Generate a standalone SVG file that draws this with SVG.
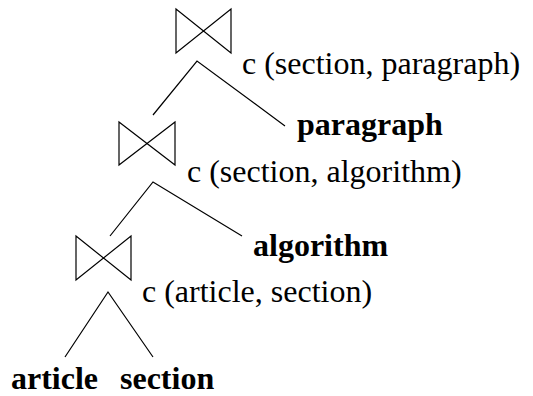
<svg xmlns="http://www.w3.org/2000/svg" width="533" height="396" viewBox="0 0 533 396">
<style>
.bt{fill:none;stroke:#000;stroke-width:1.2;stroke-linejoin:miter}
.e{fill:none;stroke:#000;stroke-width:1.2}
text{font-family:'Liberation Serif','Times New Roman',Tinos,'DejaVu Serif',serif;font-size:32px;fill:#000}
.b{font-weight:bold}
</style>
<rect width="533" height="396" fill="#fff"/>
<g id="join1">
<path class="bt" d="M176,9 L231,53 L231,9 L176,53 Z"/>
<text x="242" y="74" font-family="Liberation Serif, serif">c (section, paragraph)</text>
</g>
<g id="paragraph"><text class="b" x="297" y="135" font-family="Liberation Serif, serif">paragraph</text></g>
<g id="join2">
<path class="bt" d="M119,122 L175,165 L175,122 L119,165 Z"/>
<text x="187" y="182" font-family="Liberation Serif, serif">c (section, algorithm)</text>
</g>
<g id="algorithm"><text class="b" x="253" y="256" font-family="Liberation Serif, serif">algorithm</text></g>
<g id="join3">
<path class="bt" d="M76,236 L131,280 L131,236 L76,280 Z"/>
<text x="142" y="302" font-family="Liberation Serif, serif">c (article, section)</text>
</g>
<g id="article"><text class="b" x="11" y="389" font-family="Liberation Serif, serif">article</text></g>
<g id="section"><text class="b" x="120" y="389" font-family="Liberation Serif, serif">section</text></g>
<g id="connectors">
<path class="e" d="M153,115 L197,61 L285,126"/>
<path class="e" d="M110,236 L153,182 L242,236"/>
<path class="e" d="M65,357 L108,292 L153,357"/>
</g>
</svg>
